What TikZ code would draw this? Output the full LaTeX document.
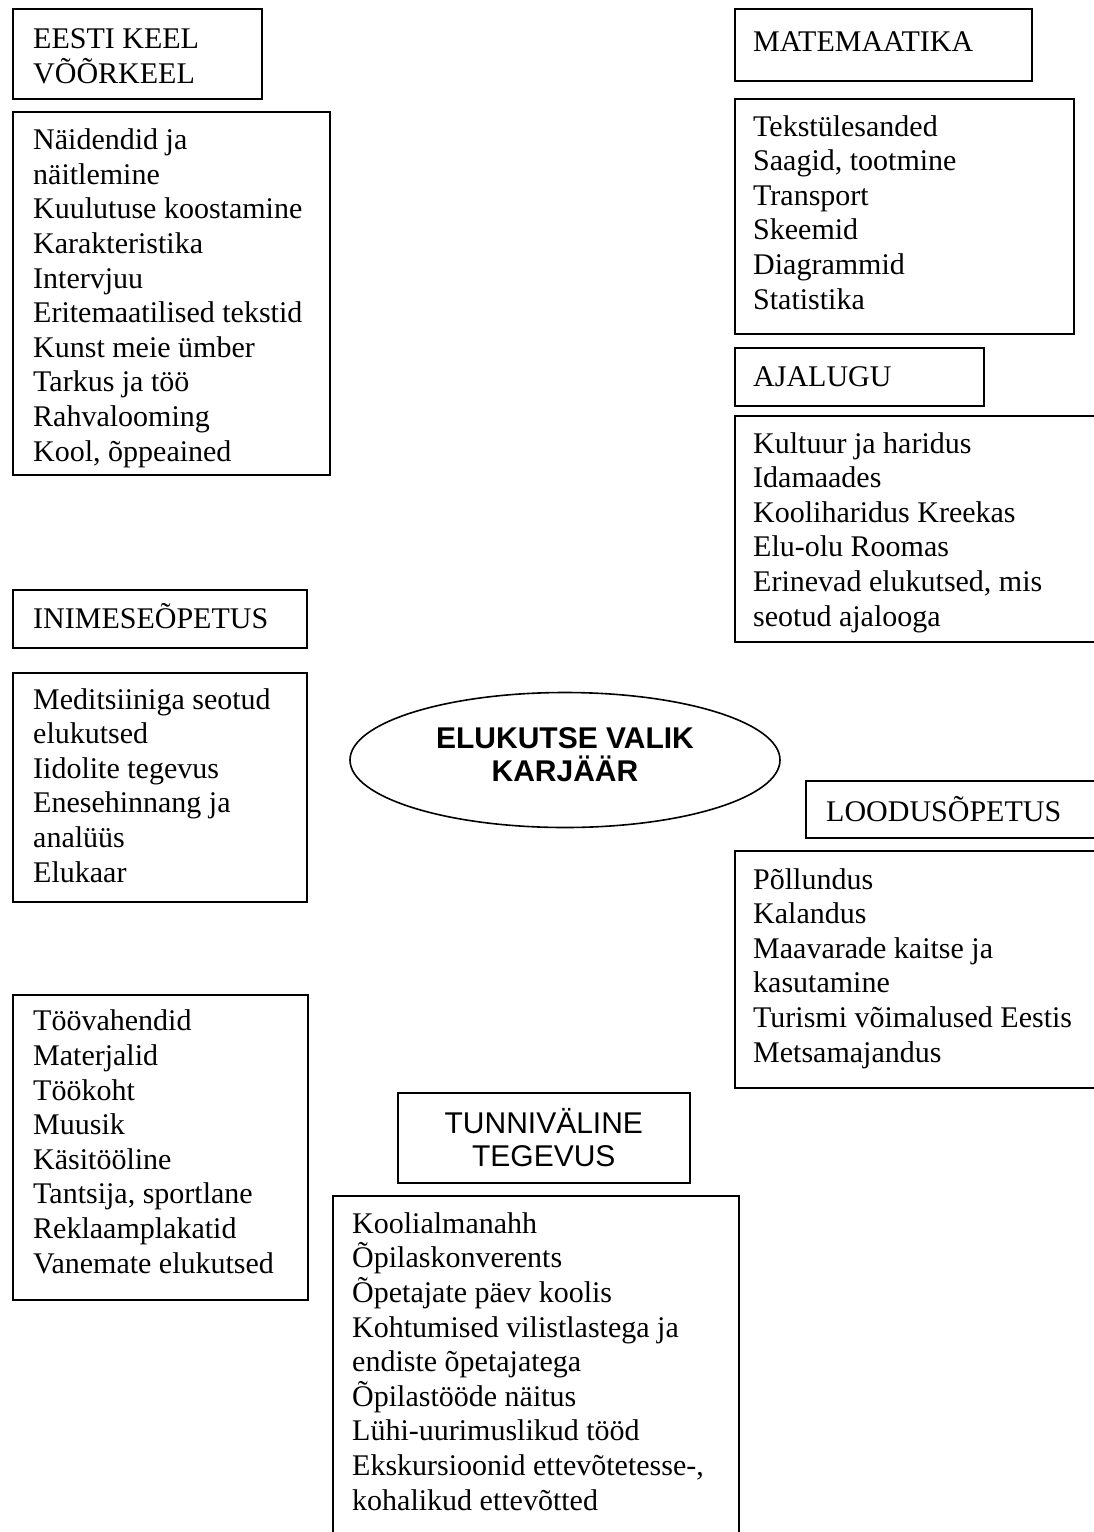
\documentclass[tikz,border=0pt]{standalone}
\usepackage{fontspec}
\setmainfont{Liberation Serif}
\setsansfont{Liberation Sans}
\usetikzlibrary{shapes.geometric}
\tikzstyle{box} = [draw, line width=1.6pt, rectangle, anchor=north west, inner sep=0mm]
\tikzstyle{txt} = [anchor=base west, align=left, inner sep=0mm, font=\fontsize{30}{34.6}\selectfont]
\tikzstyle{head} = [align=center, inner sep=0mm, font=\sffamily\fontsize{30}{33}\selectfont]
\tikzstyle{hub} = [draw, ellipse, line width=1.6pt, inner sep=0mm, align=center, text depth=10pt, font=\sffamily\bfseries\fontsize{30}{33}\selectfont]

\begin{document}
\begin{tikzpicture}[x=1pt, y=-1pt]
    \useasboundingbox (0,0) rectangle (1094,1532);

    % eesti keel (text nodes sit on their last line)
    \node[box, minimum width=249, minimum height=90] (eestihead) at (12,8) {};
    \node[txt, font=\fontsize{30}{35}\selectfont] (eestititle) at (33,83) {EESTI KEEL\\VÕÕRKEEL};
    \node[box, minimum width=317, minimum height=363] (eestibox) at (12,111) {};
    \node[txt] (eesti) at (33,461) {Näidendid ja\\näitlemine\\Kuulutuse koostamine\\Karakteristika\\Intervjuu\\Eritemaatilised tekstid\\Kunst meie ümber\\Tarkus ja töö\\Rahvalooming\\Kool, õppeained};

    % matemaatika
    \node[box, minimum width=297, minimum height=72] (matehead) at (734,8) {};
    \node[txt] (matetitle) at (753,51) {MATEMAATIKA};
    \node[box, minimum width=339, minimum height=235] (matebox) at (734,98) {};
    \node[txt] (mate) at (753,309) {Tekstülesanded\\Saagid, tootmine\\Transport\\Skeemid\\Diagrammid\\Statistika};

    % ajalugu
    \node[box, minimum width=249, minimum height=58] (ajaluguhead) at (734,347) {};
    \node[txt] (ajalugutitle) at (753,386) {AJALUGU};
    \node[box, minimum width=380, minimum height=226] (ajalugubox) at (734,415) {};
    \node[txt] (ajalugu) at (753,626) {Kultuur ja haridus\\Idamaades\\Kooliharidus Kreekas\\Elu-olu Roomas\\Erinevad elukutsed, mis\\seotud ajalooga};

    % inimeseopetus
    \node[box, minimum width=294, minimum height=58] (inimesehead) at (12,589) {};
    \node[txt] (inimesetitle) at (33,628) {INIMESEÕPETUS};
    \node[box, minimum width=294, minimum height=229] (inimesebox) at (12,672) {};
    \node[txt] (inimese) at (33,882) {Meditsiiniga seotud\\elukutsed\\Iidolite tegevus\\Enesehinnang ja\\analüüs\\Elukaar};

    % keskne
    \node[hub, minimum width=430, minimum height=135] (valik) at (565,760) {ELUKUTSE VALIK\\KARJÄÄR};

    % loodusopetus
    \node[box, minimum width=310, minimum height=57] (loodushead) at (805,780) {};
    \node[txt] (loodustitle) at (826,821) {LOODUSÕPETUS};
    \node[box, minimum width=380, minimum height=237] (loodusbox) at (734,850) {};
    \node[txt] (loodus) at (753,1062) {Põllundus\\Kalandus\\Maavarade kaitse ja\\kasutamine\\Turismi võimalused Eestis\\Metsamajandus};

    % too ja elukutsed
    \node[box, minimum width=295, minimum height=305] (toobox) at (12,994) {};
    \node[txt] (too) at (33,1273) {Töövahendid\\Materjalid\\Töökoht\\Muusik\\Käsitööline\\Tantsija, sportlane\\Reklaamplakatid\\Vanemate elukutsed};

    % tunnivaline
    \node[box, minimum width=292, minimum height=90] (tunnihead) at (397,1092) {};
    \node[head] (tunnititle) at (tunnihead.center) {TUNNIVÄLINE\\TEGEVUS};
    \node[box, minimum width=406, minimum height=360] (tunnibox) at (332,1195) {};
    \node[txt] (tunni) at (352,1510) {Koolialmanahh\\Õpilaskonverents\\Õpetajate päev koolis\\Kohtumised vilistlastega ja\\endiste õpetajatega\\Õpilastööde näitus\\Lühi-uurimuslikud tööd\\Ekskursioonid ettevõtetesse-,\\kohalikud ettevõtted};
\end{tikzpicture}
\end{document}
